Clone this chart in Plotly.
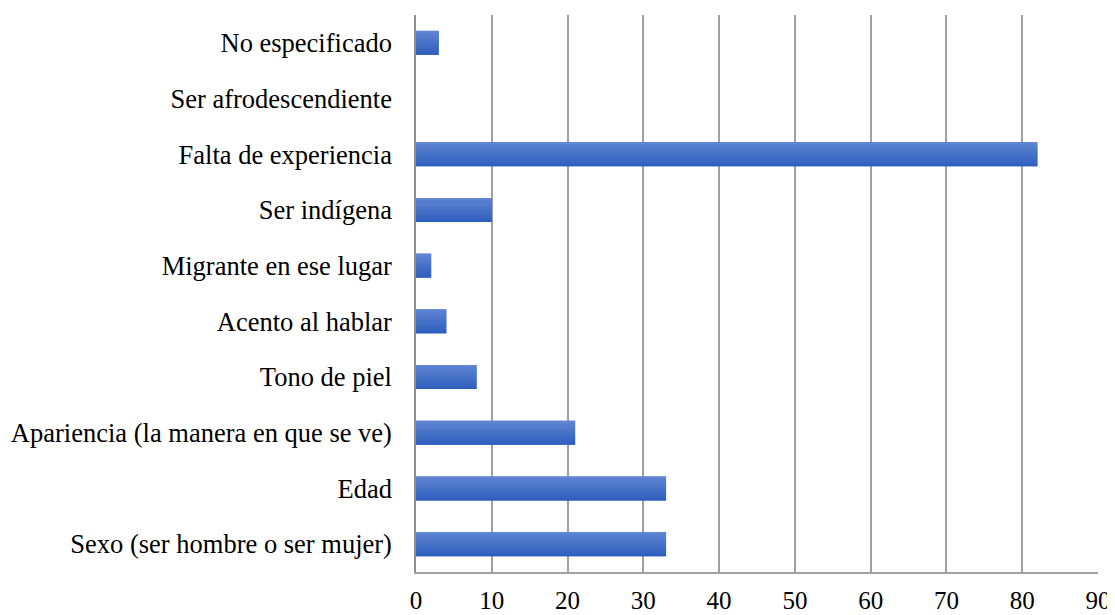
import plotly.graph_objects as go

categories = [
    "Sexo (ser hombre o ser mujer)",
    "Edad",
    "Apariencia (la manera en que se ve)",
    "Tono de piel",
    "Acento al hablar",
    "Migrante en ese lugar",
    "Ser indígena",
    "Falta de experiencia",
    "Ser afrodescendiente",
    "No especificado",
]
values = [33, 33, 21, 8, 4, 2, 10, 82, 0, 3]
x_ticks = [0, 10, 20, 30, 40, 50, 60, 70, 80, 90]

# gradient colours (bottom -> top) to mimic the shaded bars
top_rgb = (96, 133, 210)
bot_rgb = (46, 95, 190)
n_strips = 10
bar_w = 0.43

fig = go.Figure()
# solid base bar
fig.add_trace(go.Bar(
    y=categories, x=values, orientation="h", width=bar_w,
    marker=dict(color="rgb(62,108,198)", line=dict(width=0)),
    hoverinfo="x+y",
))
strip = bar_w / n_strips
for i in range(n_strips):
    t = i / (n_strips - 1)
    c = tuple(round(b + (a - b) * t) for a, b in zip(top_rgb, bot_rgb))
    fig.add_trace(go.Bar(
        y=categories, x=values, orientation="h",
        width=strip * 1.02,
        offset=-bar_w / 2 + i * strip,
        marker=dict(color="rgb(%d,%d,%d)" % c, line=dict(width=0)),
        hoverinfo="skip",
    ))

fig.update_layout(
    width=1115,
    height=615,
    margin=dict(l=408, r=25, t=7, b=51),
    plot_bgcolor="white",
    paper_bgcolor="white",
    barmode="overlay",
    showlegend=False,
    font=dict(family="Liberation Serif", color="black", size=26),
)

fig.update_xaxes(
    range=[0, 90],
    tickvals=x_ticks,
    showgrid=True,
    gridcolor="#a0a0a0",
    gridwidth=1.5,
    showline=True,
    linecolor="#a0a0a0",
    linewidth=1.5,
    zeroline=False,
    ticks="",
    tickfont=dict(size=25),
    ticklabelstandoff=5,
    automargin=False,
    fixedrange=True,
)
fig.update_yaxes(
    categoryorder="array",
    categoryarray=categories,
    showgrid=False,
    showline=True,
    linecolor="#909090",
    linewidth=1.5,
    ticks="",
    ticklabelstandoff=17,
    tickfont=dict(size=26.5),
    automargin=False,
)

fig.write_html("out.html")
